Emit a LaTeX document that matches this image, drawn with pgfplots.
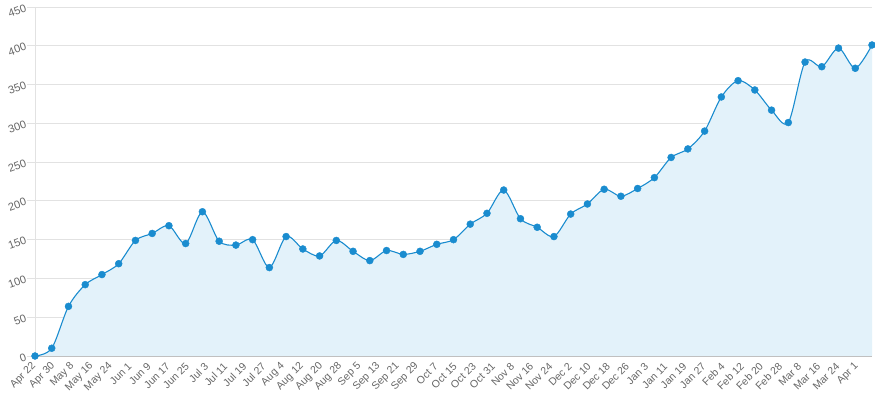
\documentclass[border=0pt]{standalone}
\usepackage{pgfplots}
\usepackage{pgfplotstable}
\pgfplotsset{compat=1.18}
\usepackage{fontspec}
\setmainfont{Liberation Sans}
\definecolor{linec}{HTML}{1A8CCF}
\definecolor{fillc}{HTML}{E3F2FA}
\definecolor{gridc}{HTML}{E2E2E2}
\definecolor{txt}{HTML}{666666}
\definecolor{axisc}{HTML}{C0C0C0}

\pgfplotstableread{
x y
0 0
7 10
14 64
21 92
28 105
35 119
42 149
49 158
56 168
63 145
70 186
77 148
84 143
91 150
98 114
105 154
112 138
119 129
126 149
133 135
140 123
147 136
154 131
161 135
168 144
175 150
182 170
189 184
196 214
203 177
210 166
217 154
224 183
231 196
238 215
245 206
252 216
259 230
266 256
273 267
280 290
287 334
294 355
301 343
308 317
315 301
322 379
329 373
336 397
343 371
350 401
}\data

\begin{document}
\begin{tikzpicture}
\begin{axis}[
  scale only axis, width=837pt, height=349pt,
  xmin=0, xmax=350, ymin=0, ymax=450,
  clip=false,
  axis line style={draw=none},
  ytick={0,50,...,450},
  xtick={0,8,...,344},
  xticklabels={Apr 22,Apr 30,May 8,May 16,May 24,Jun 1,Jun 9,Jun 17,Jun 25,Jul 3,Jul 11,Jul 19,Jul 27,Aug 4,Aug 12,Aug 20,Aug 28,Sep 5,Sep 13,Sep 21,Sep 29,Oct 7,Oct 15,Oct 23,Oct 31,Nov 8,Nov 16,Nov 24,Dec 2,Dec 10,Dec 18,Dec 26,Jan 3,Jan 11,Jan 19,Jan 27,Feb 4,Feb 12,Feb 20,Feb 28,Mar 8,Mar 16,Mar 24,Apr 1},
  x tick label style={rotate=45, anchor=east, font=\fontsize{10.5}{11}\selectfont, text=txt, inner sep=1pt},
  y tick label style={rotate=20, anchor=east, font=\fontsize{11}{12}\selectfont, text=txt, inner sep=1pt},
  /pgf/number format/assume math mode=true,
  ymajorgrids,
  major grid style={gridc, line width=0.8pt},
  xtick style={draw=none},
  ytick style={gridc, line width=0.8pt},
  tick align=outside,
  major tick length=8pt,
  ytick pos=left,
]
\addplot[draw=none, fill=fillc, smooth] table {\data} \closedcycle;
\draw[gridc, line width=0.8pt] (rel axis cs:0,0) -- (rel axis cs:0,1);
\draw[axisc, line width=0.8pt] (rel axis cs:0,0) -- (rel axis cs:1,0);
\addplot[linec, line width=1.1pt, smooth, mark=*, mark size=3.5pt, mark options={fill=linec, draw=linec, line width=0.4pt, solid}] table {\data};
\coordinate (SW) at (rel axis cs:0,0);
\coordinate (NE) at (rel axis cs:1,1);
\end{axis}
\pgfresetboundingbox
\path[use as bounding box] ([shift={(-35pt,-44pt)}]SW) rectangle ([shift={(3pt,7pt)}]NE);
\end{tikzpicture}
\end{document}
